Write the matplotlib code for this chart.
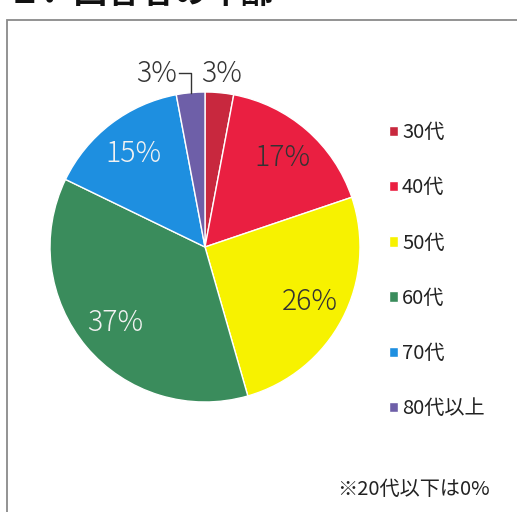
import numpy as np
import matplotlib
matplotlib.use('Agg')
import matplotlib.pyplot as plt
from matplotlib.patches import Rectangle

plt.rcParams['font.family'] = ['Noto Sans CJK JP', 'DejaVu Sans']

labels = ['30代', '40代', '50代', '60代', '70代', '80代以上']
values = [3, 17, 26, 37, 15, 3]
colors = ['#c8283e', '#ea1f41', '#f7f200', '#3a8c5c', '#1e8fe0', '#6e5fa8']
pct_colors = ['#333333', '#333333', '#333333', '#f2f2f2', '#f2f2f2', '#333333']
title = '１．回答者の年齢'
note = '※20代以下は0%'

fig = plt.figure(figsize=(5.17, 5.12), dpi=100)
W, H = 517, 512

# frame around chart (cut off at right/bottom like the scan)
fig.patches.append(Rectangle((7 / W, -0.05), 1.1, 1 - 20 / H + 0.05,
                             transform=fig.transFigure, fill=False,
                             edgecolor='#8a8a8a', linewidth=1.3))
# title mostly cut off at top
fig.text(8 / W, 1 - 3 / H, title, fontsize=24, fontweight='bold',
         color='#111111', va='baseline', ha='left')

cx, cy, r = 205, 247, 155
ax = fig.add_axes([(cx - r) / W, (H - cy - r) / H, 2 * r / W, 2 * r / H])
wedges, texts, autotexts = ax.pie(values, colors=colors, startangle=90, counterclock=False,
                                  radius=1, autopct=lambda p: f'{p:.0f}%', pctdistance=0.76,
                                  wedgeprops=dict(edgecolor='white', linewidth=1.0),
                                  textprops=dict(fontsize=20.5, fontweight='light'))
ax.set_xlim(-1, 1)
ax.set_ylim(-1, 1)
for t, c in zip(autotexts, pct_colors):
    t.set_color(c)

# small slices: labels outside
for i, w in enumerate(wedges):
    if values[i] > 5:
        continue
    mid = np.deg2rad((w.theta1 + w.theta2) / 2)
    t = autotexts[i]
    if i == 0:
        t.set_position((1.12 * np.cos(mid), 1.12 * np.sin(mid)))
        t.set_ha('center')
        t.set_va('center')
    else:
        x0 = np.cos(mid)
        yl = 1.12
        ax.plot([x0, x0, x0 - 0.075], [np.sin(mid), yl, yl], color='#333333', lw=1, clip_on=False)
        t.set_position((x0 - 0.085, yl))
        t.set_ha('right')
        t.set_va('center')
    t.set_clip_on(False)

fig.legend(wedges, labels, loc='upper left', bbox_to_anchor=(371 / W, 1 - 104 / H),
           frameon=False, fontsize=14.5, handlelength=0.42, handleheight=0.42,
           handletextpad=0.22, labelspacing=1.70, labelcolor='#222222')

fig.text(1 - 27 / W, 1 - 489 / H, note, fontsize=14.5, color='#222222', ha='right', va='center')

fig.savefig('out.png', dpi=100)
